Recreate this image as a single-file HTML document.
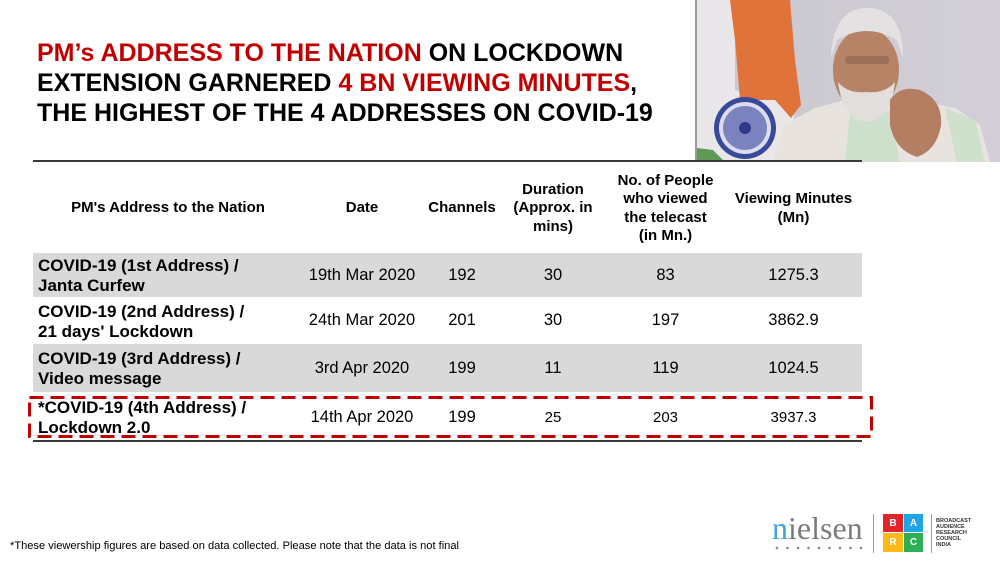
<!DOCTYPE html>
<html><head><meta charset="utf-8">
<style>
*{margin:0;padding:0;box-sizing:border-box}
body{width:1000px;height:562px;position:relative;background:#fff;font-family:"Liberation Sans",Arial,sans-serif;overflow:hidden;color:#000}
.title{position:absolute;left:37px;top:38px;font-weight:bold;font-size:25px;line-height:30px;white-space:nowrap;letter-spacing:0}
.red{color:#c00000}
.abs{position:absolute}
.hdr{position:absolute;top:163px;height:91px;display:flex;align-items:center;justify-content:center;text-align:center;font-weight:bold;font-size:15px;line-height:18.5px}
.row{position:absolute;left:33px;width:829px}
.cell{position:absolute;top:0;height:100%;display:flex;align-items:center;justify-content:center;font-size:16.5px}
.c1{left:5px;width:270px;justify-content:flex-start;font-weight:bold;font-size:17px;line-height:20px;padding-top:2px}
.c2{left:267px;width:124px}
.c3{left:390px;width:78px}
.c4{left:467px;width:106px}
.c5{left:574px;width:117px}
.c6{left:692px;width:137px}
.cal{font-size:15px}
</style></head><body>

<!-- photo -->
<svg class="abs" style="left:695px;top:0" width="305" height="162" viewBox="0 0 305 162">
  <defs>
    <linearGradient id="bg" x1="0" y1="0" x2="1" y2="0">
      <stop offset="0" stop-color="#c9c6cd"/>
      <stop offset="1" stop-color="#d2cfd8"/>
    </linearGradient>
  </defs>
  <rect width="305" height="162" fill="url(#bg)"/>
  <rect x="0" y="0" width="2" height="162" fill="#9a9a9a"/>
  <polygon points="2,0 40,0 40,90 100,105 95,162 2,162" fill="#e9e7ea"/>
  <polygon points="35,0 95,0 100,60 106,105 96,118 80,100 45,100 40,40" fill="#e0733a"/>
  <polygon points="2,148 18,150 30,162 2,162" fill="#5f9a55"/>
  <circle cx="50" cy="128" r="31" fill="#3a4a9a"/>
  <circle cx="50" cy="128" r="26" fill="#dcdcec"/>
  <circle cx="50" cy="128" r="22" fill="#7a82c0"/>
  <circle cx="50" cy="128" r="6" fill="#2d3a88"/>
  <!-- body -->
  <polygon points="78,162 88,125 120,108 150,100 220,100 260,108 285,125 295,162" fill="#e8e3de"/>
  <polygon points="150,162 155,110 172,118 195,110 205,162" fill="#cde0cc"/>
  <polygon points="250,108 280,120 290,162 262,162" fill="#cfe0cc"/>
  <!-- head -->
  <ellipse cx="171" cy="70" rx="33" ry="42" fill="#b68366"/>
  <path d="M136,58 Q138,8 172,8 Q208,8 208,58 L202,40 Q172,22 142,40 Z" fill="#e4e1e2"/>
  <path d="M143,82 Q148,120 171,122 Q196,120 200,82 Q190,94 171,92 Q153,94 143,82 Z" fill="#e2dedb"/>
  <rect x="150" y="56" width="44" height="8" rx="3" fill="#8b6450" opacity="0.6"/>
  <!-- hand -->
  <path d="M195,100 Q205,85 225,90 Q248,100 246,125 Q242,150 222,157 Q200,150 195,125 Z" fill="#b37e62"/>
</svg>

<div class="title"><span class="red">PM’s ADDRESS TO THE NATION</span> ON LOCKDOWN<br>EXTENSION GARNERED <span class="red">4 BN VIEWING MINUTES</span>,<br>THE HIGHEST OF THE 4 ADDRESSES ON COVID-19</div>

<!-- top line -->
<div class="abs" style="left:33px;top:160px;width:829px;height:2px;background:#3a3a3a"></div>

<!-- headers -->
<div class="hdr" style="left:33px;width:270px">PM's Address to the Nation</div>
<div class="hdr" style="left:300px;width:124px">Date</div>
<div class="hdr" style="left:423px;width:78px">Channels</div>
<div class="hdr" style="left:500px;width:106px">Duration<br>(Approx. in<br>mins)</div>
<div class="hdr" style="left:607px;width:117px">No. of People<br>who viewed<br>the telecast<br>(in Mn.)</div>
<div class="hdr" style="left:725px;width:137px">Viewing Minutes<br>(Mn)</div>

<!-- rows -->
<div class="row" style="top:253px;height:44px;background:#d9d9d9">
  <div class="cell c1">COVID-19 (1st Address) /<br>Janta Curfew</div>
  <div class="cell c2">19th Mar 2020</div>
  <div class="cell c3">192</div>
  <div class="cell c4">30</div>
  <div class="cell c5">83</div>
  <div class="cell c6">1275.3</div>
</div>
<div class="row" style="top:298px;height:45px;background:#fff">
  <div class="cell c1">COVID-19 (2nd Address) /<br>21 days' Lockdown</div>
  <div class="cell c2">24th Mar 2020</div>
  <div class="cell c3">201</div>
  <div class="cell c4">30</div>
  <div class="cell c5">197</div>
  <div class="cell c6">3862.9</div>
</div>
<div class="row" style="top:344px;height:48px;background:#d9d9d9">
  <div class="cell c1">COVID-19 (3rd Address) /<br>Video message</div>
  <div class="cell c2">3rd Apr 2020</div>
  <div class="cell c3">199</div>
  <div class="cell c4">11</div>
  <div class="cell c5">119</div>
  <div class="cell c6">1024.5</div>
</div>
<div class="row" style="top:393px;height:48px;background:#fff">
  <div class="cell c1">*COVID-19 (4th Address) /<br>Lockdown 2.0</div>
  <div class="cell c2">14th Apr 2020</div>
  <div class="cell c3">199</div>
  <div class="cell c4 cal">25</div>
  <div class="cell c5 cal">203</div>
  <div class="cell c6 cal">3937.3</div>
</div>

<!-- bottom line -->
<div class="abs" style="left:33px;top:440px;width:829px;height:2px;background:#3a3a3a"></div>

<!-- dashed box -->
<svg class="abs" style="left:0;top:0" width="1000" height="562">
  <rect x="29.5" y="397.5" width="842" height="39" fill="none" stroke="#c00000" stroke-width="3" stroke-dasharray="14 7"/>
</svg>

<!-- footnote -->
<div class="abs" style="left:10px;top:540px;font-size:11.1px;white-space:nowrap">*These viewership figures are based on data collected. Please note that the data is not final</div>

<!-- nielsen logo -->
<div class="abs" style="left:772px;top:510px;font-family:'Liberation Serif',serif;font-size:32px;line-height:36px;color:#7b7b7b;white-space:nowrap"><span style="color:#3ea6d9">n</span>ielsen</div>
<svg class="abs" style="left:770px;top:545px" width="100" height="6">
  <g fill="#888">
    <circle cx="7" cy="3" r="1.3"/><circle cx="17.5" cy="3" r="1.3"/><circle cx="28" cy="3" r="1.3"/>
    <circle cx="38.5" cy="3" r="1.3"/><circle cx="49" cy="3" r="1.3"/><circle cx="59.5" cy="3" r="1.3"/>
    <circle cx="70" cy="3" r="1.3"/><circle cx="80.5" cy="3" r="1.3"/><circle cx="91" cy="3" r="1.3"/>
  </g>
</svg>
<div class="abs" style="left:873px;top:514px;width:1px;height:39px;background:#9a9a9a"></div>
<!-- BARC -->
<div class="abs" style="left:883px;top:514px;width:20px;height:18px;background:#e3232a;color:#fff;font-size:10px;font-weight:bold;display:flex;align-items:center;justify-content:center">B</div>
<div class="abs" style="left:904px;top:514px;width:19px;height:18px;background:#1fa4e4;color:#fff;font-size:10px;font-weight:bold;display:flex;align-items:center;justify-content:center">A</div>
<div class="abs" style="left:883px;top:533px;width:20px;height:19px;background:#fbb817;color:#fff;font-size:10px;font-weight:bold;display:flex;align-items:center;justify-content:center">R</div>
<div class="abs" style="left:904px;top:533px;width:19px;height:19px;background:#2eae55;color:#fff;font-size:10px;font-weight:bold;display:flex;align-items:center;justify-content:center">C</div>
<div class="abs" style="left:931px;top:514px;width:1px;height:39px;background:#9a9a9a"></div>
<div class="abs" style="left:936px;top:518px;font-size:5.5px;line-height:6px;font-weight:bold;color:#333;white-space:nowrap">BROADCAST<br>AUDIENCE<br>RESEARCH<br>COUNCIL<br>INDIA</div>

</body></html>
